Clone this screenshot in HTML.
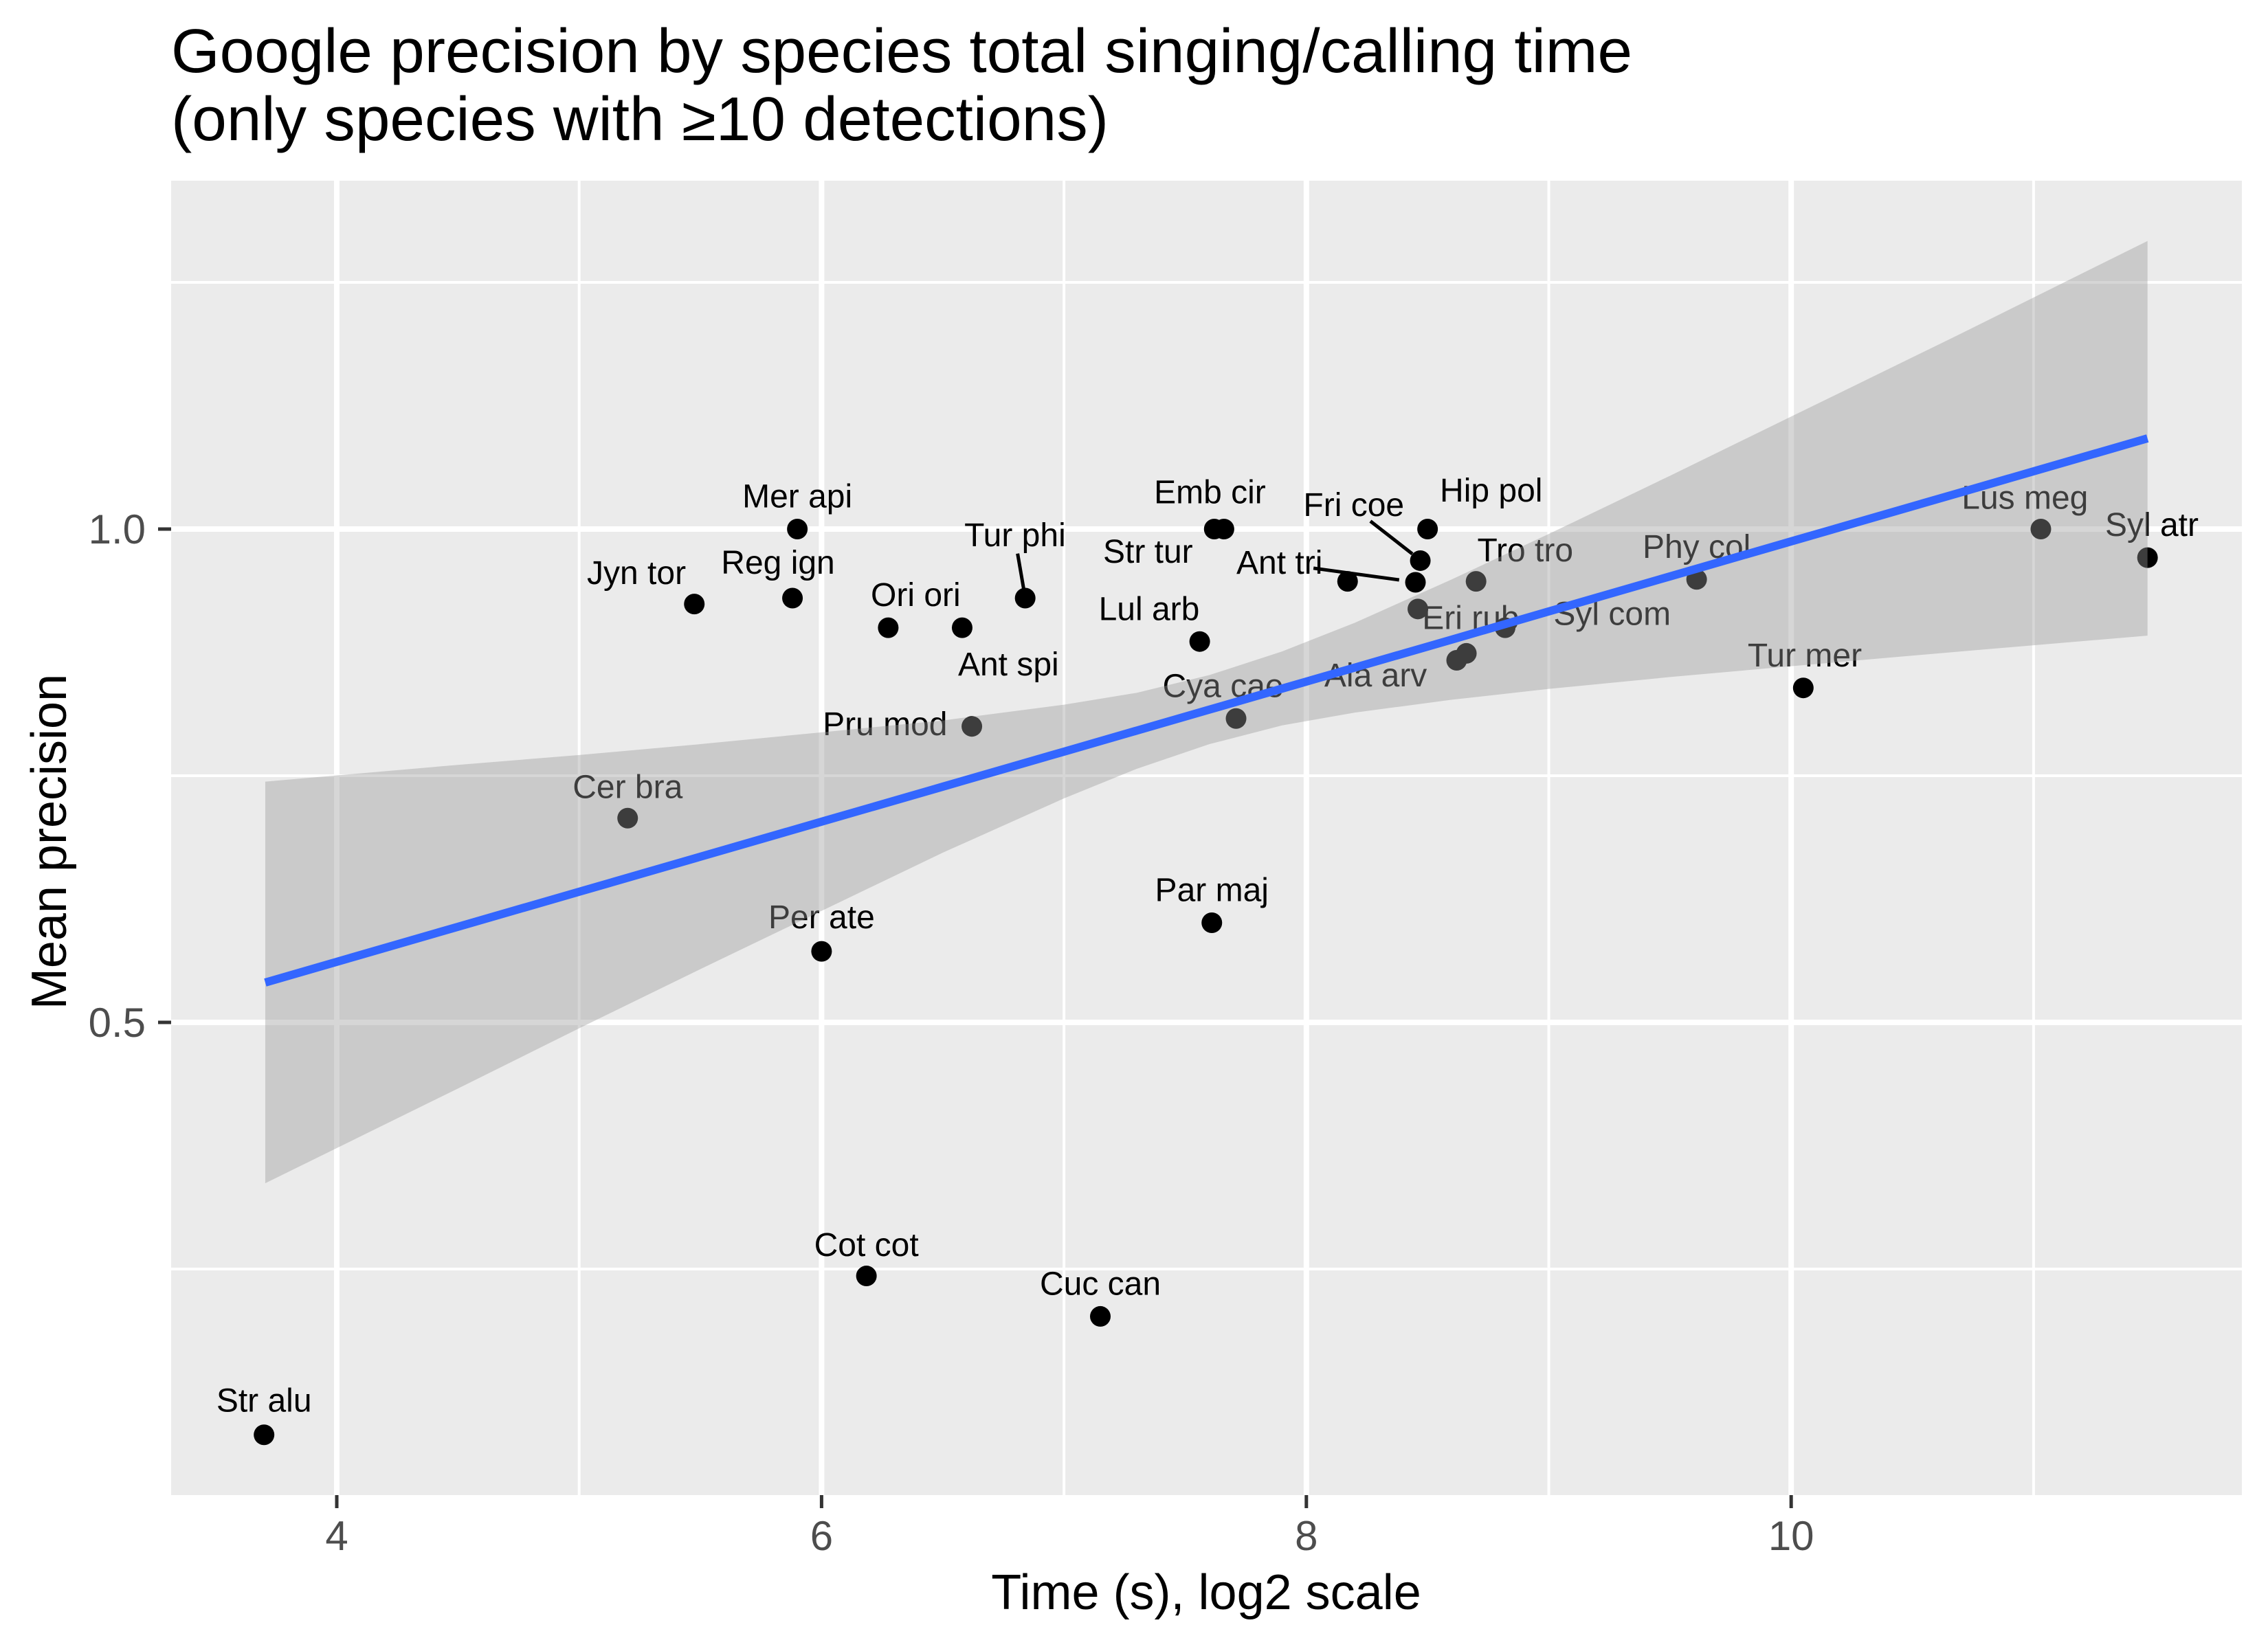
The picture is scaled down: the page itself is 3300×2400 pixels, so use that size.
<!DOCTYPE html>
<html><head><meta charset="utf-8">
<style>html,body{margin:0;padding:0;background:#fff}svg{display:block}text{font-family:"Liberation Sans",Arial,sans-serif}</style>
</head><body>
<svg id="chart" width="3300" height="2400" viewBox="0 0 3300 2400" xmlns="http://www.w3.org/2000/svg">
<rect x="0" y="0" width="3300" height="2400" fill="#fff"/>
<text x="249" y="105" font-size="90" fill="#000" textLength="2126" lengthAdjust="spacingAndGlyphs">Google precision by species total singing/calling time</text>
<text x="249" y="204" font-size="90" fill="#000" textLength="1364" lengthAdjust="spacingAndGlyphs">(only species with ≥10 detections)</text>
<g id="plot"></g>
<text x="1755" y="2342" font-size="72" text-anchor="middle" fill="#000">Time (s), log2 scale</text>
<text x="0" y="0" font-size="72" text-anchor="middle" fill="#000" transform="translate(96,1225) rotate(-90)">Mean precision</text>
</svg>
<script>
// ---- data ----
const species = ["Str alu","Cer bra","Jyn tor","Reg ign","Mer api","Per ate","Cot cot","Ori ori","Ant spi","Pru mod","Tur phi","Cuc can","Lul arb","Par maj","Emb cir","Emb cir 2","Cya cae","Str tur","Hip pol","Fri coe","Ant tri","Ant tri 2","Tro tro","Eri rub","Ala arv","Syl com","Phy col","Tur mer","Lus meg","Syl atr"];
const timeLog2 = [3.70,5.20,5.475,5.88,5.90,6.00,6.185,6.275,6.58,6.62,6.84,7.15,7.56,7.61,7.62,7.66,7.71,8.17,8.50,8.47,8.45,8.46,8.70,8.66,8.62,8.82,9.61,10.05,11.03,11.47];
const precision = [0.082,0.707,0.924,0.930,1.0,0.572,0.243,0.900,0.900,0.800,0.930,0.202,0.886,0.601,1.0,1.0,0.808,0.947,1.0,0.968,0.946,0.919,0.947,0.874,0.867,0.900,0.949,0.839,1.0,0.971];
const labelText = ["Str alu","Cer bra","Jyn tor","Reg ign","Mer api","Per ate","Cot cot","Ori ori","Ant spi","Pru mod","Tur phi","Cuc can","Lul arb","Par maj","Emb cir","","Cya cae","Str tur","Hip pol","Fri coe","Ant tri","","Tro tro","Eri rub","Ala arv","Syl com","Phy col","Tur mer","Lus meg","Syl atr"];
const fitX = [3.705,4.5,5.0,5.5,6.0,6.5,7.0,7.3,7.6,7.9,8.2,8.6,9.0,9.5,10.0,10.7,11.47];
const fitY = [0.5404,0.5969,0.6324,0.6679,0.7034,0.7389,0.7744,0.7957,0.8170,0.8383,0.8596,0.8880,0.9165,0.9520,0.9875,1.0372,1.0919];
const fitLower = [0.337,0.433,0.494,0.554,0.613,0.672,0.727,0.757,0.782,0.801,0.814,0.827,0.838,0.850,0.861,0.876,0.892];
const fitUpper = [0.744,0.761,0.771,0.782,0.794,0.806,0.822,0.834,0.852,0.876,0.905,0.949,0.995,1.054,1.114,1.198,1.292];
const xMajor = [4,6,8,10];
const xMinor = [5,7,9,11];
const yMajor = [0.5,1.0];
const yMajorLabels = ["0.5","1.0"];
const yMinor = [0.25,0.75,1.25];
// label offsets (px, layout only): [dx, dy, hasSegment]
const S = 2.1046;
const labelOff = [[0,-24],[0,-22],[-40,-22],[-10,-25],[0,-23],[0,-24],[0,-22],[19,-23],[32,25],[-60,-2],[-7,-44,1],[0,-23],[-35,-23],[0,-23],[-3,-26],[0,0],[-9,-23],[-138,-21],[44,-27],[-46,-39,1],[-94,-14,1],[0,0],[34,-22],[3,-25],[-56,10],[74,-10],[0,-23],[1,-23],[-11,-22],[3,-23]];

// ---- scales ----
const PL=249, PR=3262, PT=263, PB=2176;
const xs = v => 490 + (v-4)*352.7;
const ys = v => 770 + (1-v)*1436;
const NS="http://www.w3.org/2000/svg";
const plot=document.getElementById('plot');
function mk(tag, attrs, parent){const e=document.createElementNS(NS,tag);for(const k in attrs)e.setAttribute(k,attrs[k]);(parent||plot).appendChild(e);return e;}

const panel=mk('rect',{x:PL,y:PT,width:PR-PL,height:PB-PT,fill:'#ebebeb'});


yMinor.forEach(v=>{const l=mk('line',{x1:PL,x2:PR,y1:ys(v),y2:ys(v),stroke:'#fff','stroke-width':4});

});
xMinor.forEach(v=>{const l=mk('line',{x1:xs(v),x2:xs(v),y1:PT,y2:PB,stroke:'#fff','stroke-width':4});

});
yMajor.forEach((v,i)=>{const l=mk('line',{x1:PL,x2:PR,y1:ys(v),y2:ys(v),stroke:'#fff','stroke-width':8});


const t=mk('line',{x1:230,x2:PL,y1:ys(v),y2:ys(v),stroke:'#333','stroke-width':5});


const tx=mk('text',{x:212,y:ys(v)+21,'font-size':60,'text-anchor':'end',fill:'#4d4d4d'});tx.textContent=yMajorLabels[i];

});
xMajor.forEach(v=>{const l=mk('line',{x1:xs(v),x2:xs(v),y1:PT,y2:PB,stroke:'#fff','stroke-width':8});


const t=mk('line',{x1:xs(v),x2:xs(v),y1:PB,y2:PB+19,stroke:'#333','stroke-width':5});


const tx=mk('text',{x:xs(v),y:2256,'font-size':60,'text-anchor':'middle',fill:'#4d4d4d'});tx.textContent=String(v);

});

// points
species.forEach((s,i)=>{const c=mk('circle',{cx:xs(timeLog2[i]),cy:ys(precision[i]),r:15,fill:'#000'});

});
// labels
species.forEach((s,i)=>{if(!labelText[i])return;const o=labelOff[i];
const px=xs(timeLog2[i]), py=ys(precision[i]);
const lx=px+o[0]*S, ly=py+o[1]*S;
if(o[2]){const seg=mk('line',{x1:lx+(px-lx)*0.25,y1:ly+(py-ly)*0.3,x2:px+(lx-px)*0.12,y2:py+(ly-py)*0.12,stroke:'#000','stroke-width':5});

}
const t=mk('text',{x:lx,y:ly+17,'font-size':48,'text-anchor':'middle',fill:'#000'});t.textContent=labelText[i];

});

// ribbon
let d='M'+fitX.map((x,i)=>xs(x)+','+ys(fitUpper[i])).join(' L');
for(let i=fitX.length-1;i>=0;i--)d+=' L'+xs(fitX[i])+','+ys(fitLower[i]);
d+=' Z';
const rib=mk('path',{d:d,fill:'rgba(153,153,153,0.4)'});


const fl=mk('polyline',{points:fitX.map((x,i)=>xs(x)+','+ys(fitY[i])).join(' '),fill:'none',stroke:'#3366ff','stroke-width':12});


</script>
</body></html>
